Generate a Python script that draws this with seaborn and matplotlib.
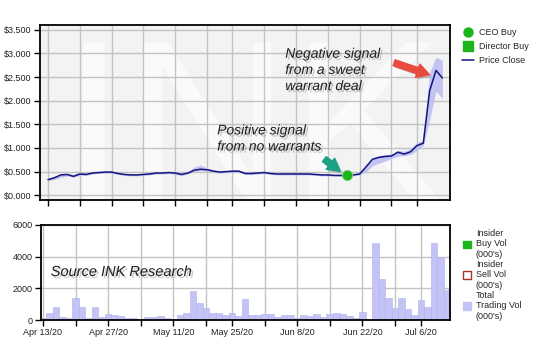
import numpy as np
import pandas as pd
import matplotlib
matplotlib.use("Agg")
import matplotlib.pyplot as plt
import matplotlib.patheffects as pe
from matplotlib.lines import Line2D
from matplotlib.patches import Patch
import seaborn as sns

# ---------------- data ----------------
# trading-day index 0 = Apr 13/20 ... 62 = Jul 10/20
price_close = [0.33, 0.37, 0.43, 0.44, 0.40, 0.45, 0.44, 0.47, 0.48, 0.49,
               0.49, 0.46, 0.44, 0.43, 0.43, 0.44, 0.45, 0.47, 0.47, 0.48,
               0.47, 0.44, 0.47, 0.53, 0.55, 0.54, 0.51, 0.49, 0.50, 0.51,
               0.51, 0.46, 0.46, 0.47, 0.48, 0.46, 0.45, 0.45, 0.45, 0.45,
               0.45, 0.45, 0.44, 0.43, 0.43, 0.42, 0.42, 0.42, 0.43, 0.45,
               0.60, 0.76, 0.80, 0.82, 0.83, 0.91, 0.87, 0.92, 1.05, 1.10,
               2.21, 2.64, 2.48]
price_high = [0.35, 0.40, 0.45, 0.46, 0.44, 0.48, 0.47, 0.50, 0.51, 0.51,
              0.51, 0.48, 0.46, 0.45, 0.45, 0.46, 0.47, 0.49, 0.49, 0.50,
              0.50, 0.47, 0.50, 0.60, 0.64, 0.58, 0.54, 0.52, 0.52, 0.53,
              0.53, 0.49, 0.48, 0.49, 0.50, 0.48, 0.47, 0.47, 0.47, 0.47,
              0.47, 0.47, 0.46, 0.45, 0.45, 0.44, 0.44, 0.44, 0.45, 0.48,
              0.64, 0.79, 0.84, 0.86, 0.87, 0.95, 0.93, 0.98, 1.12, 1.16,
              2.60, 2.92, 2.85]
price_low = [0.31, 0.33, 0.38, 0.41, 0.38, 0.42, 0.42, 0.45, 0.46, 0.47,
             0.47, 0.44, 0.42, 0.41, 0.41, 0.42, 0.43, 0.45, 0.45, 0.46,
             0.44, 0.42, 0.45, 0.51, 0.52, 0.51, 0.49, 0.47, 0.48, 0.49,
             0.49, 0.44, 0.44, 0.45, 0.46, 0.44, 0.43, 0.43, 0.43, 0.43,
             0.43, 0.43, 0.42, 0.41, 0.41, 0.40, 0.40, 0.40, 0.41, 0.43,
             0.50, 0.62, 0.68, 0.72, 0.78, 0.82, 0.84, 0.86, 0.95, 1.05,
             1.60, 2.20, 2.05]
total_volume = [100, 420, 830, 170, 120, 1390, 830, 100, 830, 200,
                380, 320, 250, 150, 150, 40, 200, 200, 250, 100,
                60, 320, 420, 1850, 1050, 780, 460, 460, 320, 460,
                250, 1330, 320, 320, 380, 380, 200, 300, 300, 100,
                300, 250, 380, 200, 380, 420, 380, 280, 130, 500,
                0, 4850, 2590, 1410, 740, 1410, 700, 320, 1260, 840,
                4850, 3960, 1890]
ceo_buy_day = [47]
ceo_buy_price = [0.42]
week_ticks = [0, 5, 10, 15, 20, 25, 29, 34, 39, 44, 49, 54, 58]
label_ticks = [0, 10, 20, 29, 39, 49, 58]
tick_labels = ["Apr 13/20", "Apr 27/20", "May 11/20", "May 25/20",
               "Jun 8/20", "Jun 22/20", "Jul 6/20"]
price_ticks = [0.0, 0.5, 1.0, 1.5, 2.0, 2.5, 3.0, 3.5]
vol_ticks = [0, 2000, 4000, 6000]

days = list(range(len(price_close)))
df = pd.DataFrame({"day": days, "close": price_close, "high": price_high,
                   "low": price_low, "vol": total_volume})

# ---------------- style ----------------
sns.set_style("white")
plt.rcParams["font.family"] = ["Liberation Sans", "DejaVu Sans"]

fig = plt.figure(figsize=(5.55, 3.5), dpi=100)
ax1 = fig.add_axes([40 / 555, 150 / 350, 410 / 555, 175 / 350])
ax2 = fig.add_axes([41 / 555, 30 / 350, 409 / 555, 95 / 350])

grid_kw = dict(color="#c3c3c3", linewidth=1.0)
tick_fs = 6.5

# ---------------- top: price ----------------
ax1.set_facecolor("#f3f3f3")
ax1.text(0.52, 0.0, "INK", transform=ax1.transAxes, fontsize=165,
         color="white", ha="center", va="baseline", zorder=0.1,
         alpha=0.65, clip_on=True)
ax1.fill_between(df["day"], df["low"], df["high"], color="#bcbcf4",
                 alpha=0.85, linewidth=0, zorder=2)
sns.lineplot(data=df, x="day", y="close", ax=ax1, color="#14147f",
             linewidth=1.1, zorder=3, legend=False)
sns.scatterplot(x=ceo_buy_day, y=ceo_buy_price, ax=ax1, color="#1cb51c",
                s=55, edgecolor="#7fd97f", linewidth=0.6, zorder=4, legend=False)

ax1.set_xlim(-1.26, 63.2)
ax1.set_ylim(-0.1, 3.6)
ax1.set_xticks(week_ticks)
ax1.set_xticklabels([])
ax1.set_yticks(price_ticks)
ax1.set_yticklabels([f"${v:.3f}" for v in price_ticks], fontsize=tick_fs,
                    color="#222222")
ax1.set_xlabel("")
ax1.set_ylabel("")
ax1.set_axisbelow(True)
ax1.grid(True, **grid_kw)
ax1.tick_params(axis="both", direction="out", length=4, width=1,
                color="black", pad=2, bottom=True, left=True)

shadow = [pe.SimplePatchShadow(offset=(1.5, -1.5), shadow_rgbFace="#888888",
                               alpha=0.45), pe.Normal()]
ax1.text(37.3, 3.14, "Negative signal\nfrom a sweet\nwarrant deal",
         fontsize=10, style="italic", color="#1e1e1e", ha="left", va="top",
         path_effects=shadow, zorder=6)
ax1.text(26.6, 1.52, "Positive signal\nfrom no warrants",
         fontsize=10, style="italic", color="#1e1e1e", ha="left", va="top",
         path_effects=shadow, zorder=6)
ax1.annotate("", xy=(60.4, 2.53), xytext=(54.0, 2.82),
             arrowprops=dict(arrowstyle="simple,head_length=0.9,head_width=1.0,tail_width=0.45",
                             color="#e84a3f", mutation_scale=10,
                             path_effects=shadow), zorder=6)
ax1.annotate("", xy=(46.3, 0.47), xytext=(43.1, 0.80),
             arrowprops=dict(arrowstyle="simple,head_length=0.9,head_width=1.0,tail_width=0.45",
                             color="#1aa085", mutation_scale=10,
                             path_effects=shadow), zorder=6)

h1 = [Line2D([], [], marker="o", linestyle="none", color="#1cb51c", markersize=6.5),
      Line2D([], [], marker="s", linestyle="none", color="#1cb51c", markersize=6.5),
      Line2D([], [], color="#14147f", linewidth=1.1)]
fig.legend(h1, ["CEO Buy", "Director Buy", "Price Close"],
           loc="upper left", bbox_to_anchor=(0.826, 0.93), frameon=False,
           fontsize=6.5, handlelength=1.3, handletextpad=0.6,
           labelspacing=0.55, borderaxespad=0)

# ---------------- bottom: volume ----------------
ax2.set_facecolor("white")
sns.barplot(data=df, x="day", y="vol", ax=ax2, native_scale=True,
            color="#c3c3f6", width=1.0, edgecolor="#b0b0ee", linewidth=0.4,
            saturation=1, zorder=2)
ax2.set_xlim(-0.3, 62.45)
ax2.set_ylim(0, 6000)
ax2.set_xticks(week_ticks)
ax2.set_xticklabels([tick_labels[label_ticks.index(t)] if t in label_ticks else ""
                     for t in week_ticks], fontsize=tick_fs, color="#222222")
ax2.set_yticks(vol_ticks)
ax2.set_yticklabels([str(v) for v in vol_ticks], fontsize=tick_fs,
                    color="#222222")
ax2.set_xlabel("")
ax2.set_ylabel("")
ax2.set_axisbelow(True)
ax2.grid(True, **grid_kw)
ax2.tick_params(axis="both", direction="out", length=4, width=1,
                color="black", pad=2, bottom=True, left=True)
ax2.text(1.2, 3030, "Source INK Research", fontsize=10.5, style="italic",
         color="#1e1e1e", ha="left", va="center", path_effects=shadow, zorder=6)

h2 = [Patch(facecolor="#1cb51c", edgecolor="#1cb51c"),
      Patch(facecolor="white", edgecolor="#b03030"),
      Patch(facecolor="#c3c3f6", edgecolor="#c3c3f6")]
fig.legend(h2, ["Insider\nBuy Vol\n(000's)", "Insider\nSell Vol\n(000's)",
                "Total\nTrading Vol\n(000's)"],
           loc="upper left", bbox_to_anchor=(0.828, 0.356), frameon=False,
           fontsize=6.5, handlelength=0.9, handleheight=0.9,
           handletextpad=0.5, labelspacing=0.12, borderaxespad=0)

for ax in (ax1, ax2):
    for s in ax.spines.values():
        s.set_visible(True)
        s.set_color("black")
        s.set_linewidth(1.3)

fig.savefig("out.png", dpi=100)
